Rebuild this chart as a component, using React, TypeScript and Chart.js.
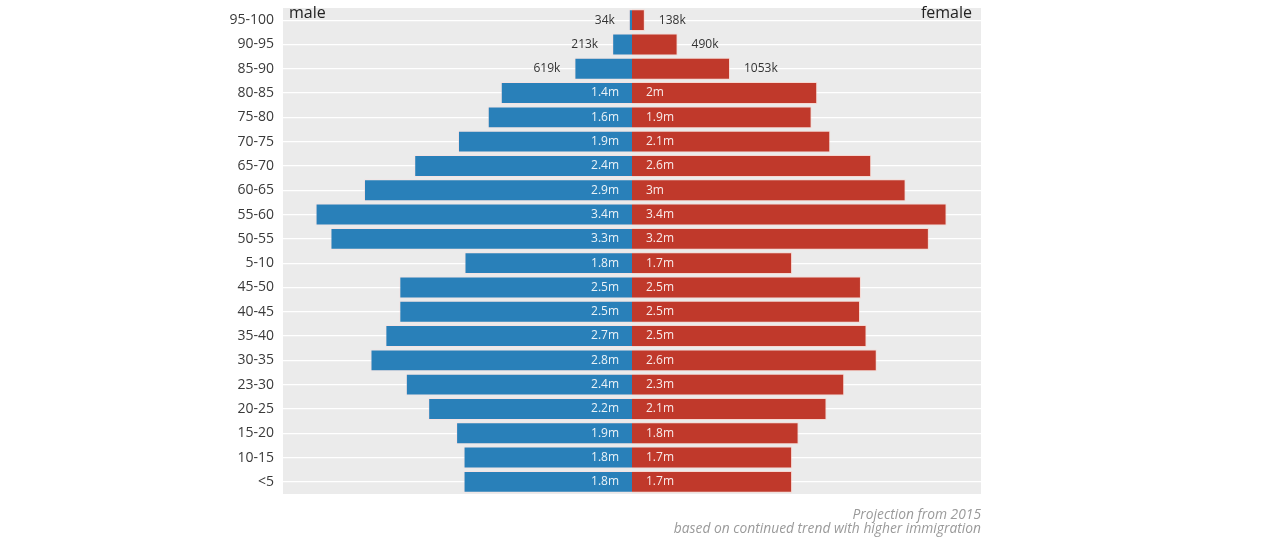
import React, { useEffect, useRef } from "react";
import { Chart, registerables } from "chart.js";

Chart.register(...registerables);

const categories = [
  "95-100", "90-95", "85-90", "80-85", "75-80", "70-75", "65-70", "60-65", "55-60", "50-55",
  "5-10", "45-50", "40-45", "35-40", "30-35", "23-30", "20-25", "15-20", "10-15", "<5",
];

const maleValues = [
  0.034, 0.213, 0.619, 1.41, 1.55, 1.87, 2.34, 2.88, 3.4, 3.24,
  1.8, 2.5, 2.5, 2.65, 2.81, 2.43, 2.19, 1.89, 1.81, 1.81,
];
const femaleValues = [
  0.138, 0.49, 1.053, 1.99, 1.93, 2.13, 2.57, 2.94, 3.38, 3.19,
  1.72, 2.46, 2.45, 2.52, 2.63, 2.28, 2.09, 1.79, 1.72, 1.72,
];

const maleLabels = [
  "34k", "213k", "619k", "1.4m", "1.6m", "1.9m", "2.4m", "2.9m", "3.4m", "3.3m",
  "1.8m", "2.5m", "2.5m", "2.7m", "2.8m", "2.4m", "2.2m", "1.9m", "1.8m", "1.8m",
];
const femaleLabels = [
  "138k", "490k", "1053k", "2m", "1.9m", "2.1m", "2.6m", "3m", "3.4m", "3.2m",
  "1.7m", "2.5m", "2.5m", "2.5m", "2.6m", "2.3m", "2.1m", "1.8m", "1.7m", "1.7m",
];

const noteLines = ["Projection from 2015", "based on continued trend with higher immigration"];

const BLUE = "#2980b9";
const RED = "#c0392b";

const panelPlugin = {
  id: "panel",
  beforeDraw(chart: any) {
    const { ctx, chartArea } = chart;
    ctx.save();
    ctx.fillStyle = "#ebebeb";
    ctx.fillRect(chartArea.left, chartArea.top, chartArea.right - chartArea.left, chartArea.bottom - chartArea.top);
    ctx.restore();
  },
  afterDraw(chart: any) {
    const { ctx, chartArea } = chart;
    ctx.save();
    ctx.fillStyle = "#222";
    ctx.textBaseline = "middle";
    ctx.font = "16px 'Open Sans', sans-serif";
    ctx.textAlign = "left";
    ctx.fillText("male", chartArea.left + 6, chartArea.top + 5);
    ctx.textAlign = "right";
    ctx.fillText("female", chartArea.right - 9, chartArea.top + 5);
    ctx.fillStyle = "#9a9a9a";
    ctx.font = "italic 13.8px 'Open Sans', sans-serif";
    ctx.fillText(noteLines[0], chartArea.right, chartArea.bottom + 21);
    ctx.fillText(noteLines[1], chartArea.right, chartArea.bottom + 35);
    ctx.restore();
  },
};

const labelPlugin = {
  id: "barLabels",
  afterDatasetsDraw(chart: any) {
    const { ctx } = chart;
    const zeroX = chart.scales.x.getPixelForValue(0);
    ctx.save();
    ctx.font = "12px 'Open Sans', sans-serif";
    ctx.textBaseline = "middle";
    const sets = [maleLabels, femaleLabels];
    sets.forEach((labels, di) => {
      const meta = chart.getDatasetMeta(di);
      meta.data.forEach((bar: any, i: number) => {
        const text = labels[i];
        const outside = text.endsWith("k");
        const y = bar.y;
        if (di === 0) {
          ctx.textAlign = "right";
          if (outside) {
            ctx.fillStyle = "#333";
            ctx.fillText(text, bar.x - 14, y);
          } else {
            ctx.fillStyle = "rgba(255,255,255,0.9)";
            ctx.fillText(text, zeroX - 13, y);
          }
        } else {
          ctx.textAlign = "left";
          if (outside) {
            ctx.fillStyle = "#333";
            ctx.fillText(text, bar.x + 14, y);
          } else {
            ctx.fillStyle = "rgba(255,255,255,0.9)";
            ctx.fillText(text, zeroX + 14, y);
          }
        }
      });
    });
    ctx.restore();
  },
};

export default function App() {
  const ref = useRef<HTMLCanvasElement | null>(null);

  useEffect(() => {
    document.body.style.margin = "0";
    if (!ref.current) return;
    const chart = new Chart(ref.current, {
      type: "bar",
      data: {
        labels: categories,
        datasets: [
          {
            label: "male",
            data: maleValues.map((v) => -v),
            backgroundColor: BLUE,
            borderColor: "rgba(255,220,220,0.5)",
            borderWidth: 1,
            barPercentage: 0.9,
            categoryPercentage: 1.0,
          },
          {
            label: "female",
            data: femaleValues,
            backgroundColor: RED,
            borderColor: "rgba(255,200,190,0.55)",
            borderWidth: 1,
            barPercentage: 0.9,
            categoryPercentage: 1.0,
          },
        ],
      },
      options: {
        indexAxis: "y",
        animation: false,
        responsive: false,
        maintainAspectRatio: false,
        layout: { padding: { left: 223, right: 290, top: 8, bottom: 47 } },
        plugins: {
          legend: { display: false },
          tooltip: { enabled: false },
        },
        scales: {
          x: {
            display: false,
            stacked: true,
            min: -3.75,
            max: 3.75,
          },
          y: {
            stacked: true,
            afterFit: (scale: any) => {
              scale.width = 60;
              scale.paddingTop = 0;
              scale.paddingBottom = 0;
            },
            grid: {
              color: "#ffffff",
              lineWidth: 1.2,
              offset: false,
              drawTicks: false,
            },
            border: { display: false },
            ticks: {
              color: "#3a3a3a",
              padding: 9,
              font: { family: "'Open Sans', sans-serif", size: 14 },
            },
          },
        },
      },
      plugins: [panelPlugin, labelPlugin],
    });
    return () => chart.destroy();
  }, []);

  return (
    <div style={{ width: 1271, height: 541, position: "relative", background: "#fff" }}>
      <canvas ref={ref} width={1271} height={541} style={{ display: "block", width: 1271, height: 541 }} />
    </div>
  );
}
